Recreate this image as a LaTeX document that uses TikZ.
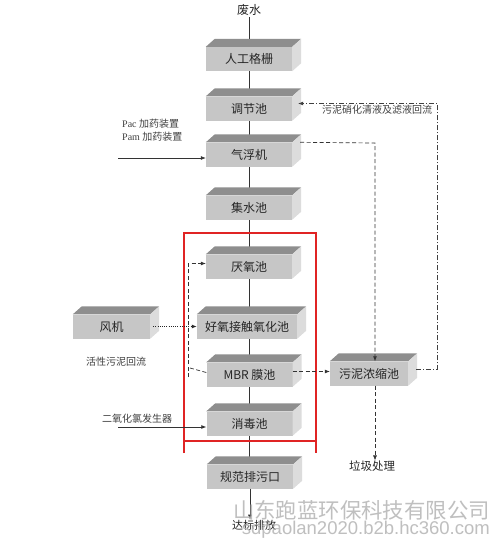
\documentclass[tikz,border=0pt]{standalone}
\usepackage{fontspec}
\setmainfont{Liberation Serif}
\newfontfamily\cjk{Noto Sans CJK SC}
\newfontfamily\wmfont{Liberation Sans}
\usetikzlibrary{arrows.meta}
\pgfdeclarelayer{background}
\pgfsetlayers{background,main}
\definecolor{boxfrontc}{HTML}{C6C6C6}
\definecolor{boxtopc}{HTML}{8E8E8E}
\definecolor{boxsidec}{HTML}{DCDCDC}
\definecolor{framered}{HTML}{E02424}
\definecolor{wmc}{HTML}{B4B4B4}
\tikzset{
  boxfront/.style={fill=boxfrontc, draw=none, minimum height=24pt, inner sep=0pt,
    font=\cjk\fontsize{12}{14}\selectfont, text=black!85},
  boxtop/.style={fill=boxtopc},
  boxside/.style={fill=boxsidec},
  mainline/.style={draw=black!80, line width=0.7pt},
  tip/.style={-{Latex[length=5pt,width=4pt]}},
  dashline/.style={draw=black!80, line width=0.7pt, dash pattern=on 4pt off 2.5pt},
  dashdotline/.style={draw=black!75, line width=0.7pt, dash pattern=on 5pt off 2pt on 1pt off 2pt},
  dotline/.style={draw=black!85, line width=0.9pt, dash pattern=on 1pt off 1.2pt},
  redframe/.style={draw=framered, line width=2pt},
  sidelabel/.style={font=\fontsize{10}{12}\selectfont, text=black!75, inner sep=0pt},
  toplabel/.style={font=\cjk\fontsize{12}{14}\selectfont, text=black!85, inner sep=1pt},
  watermark/.style={text=wmc, opacity=0.85, inner sep=0pt, anchor=east}
}
\newcommand\cub[5]{%
  \node[boxfront, minimum width=#4] (#1) at (#2,#3) {#5};
  \fill[boxtop] (#1.north west) -- ++(9,-8) -- ([shift={(9,-8)}]#1.north east) -- (#1.north east) -- cycle;
  \fill[boxside] (#1.north east) -- ++(9,-8) -- ([shift={(9,-8)}]#1.south east) -- (#1.south east) -- cycle;
}
\begin{document}
\begin{tikzpicture}[x=1pt,y=-1pt]
\begin{pgfonlayer}{background}
\fill[white] (0,0) rectangle (492,541);
\end{pgfonlayer}
\useasboundingbox (0,0) rectangle (492,541);

% boxes
\cub{gs}{249}{59}{86pt}{人工格栅}
\cub{tj}{249}{108.5}{86pt}{调节池}
\cub{qf}{249}{154.5}{86pt}{气浮机}
\cub{js}{249}{207.5}{86pt}{集水池}
\cub{yy}{249}{266.5}{86pt}{厌氧池}
\cub{hy}{247}{326.5}{100pt}{好氧接触氧化池}
\cub{mbr}{249.5}{374.5}{86pt}{MBR 膜池}
\cub{xd}{249.5}{423.5}{86pt}{消毒池}
\cub{gf}{250}{476.5}{86pt}{规范排污口}
\cub{fj}{111.5}{326.5}{77pt}{风机}
\cub{nz}{369}{373.5}{78pt}{污泥浓缩池}

% text labels
\node[toplabel] (fs) at (249,10) {废水};
\node[sidelabel, anchor=west] (pac) at (122,124) {Pac \cjk 加药装置};
\node[sidelabel, anchor=west] (pam) at (122,137) {Pam \cjk 加药装置};
\node[sidelabel, font=\cjk\fontsize{10}{12}\selectfont] (hl) at (377,110) {污泥硝化清液及滤液回流};
\node[sidelabel, font=\cjk\fontsize{10}{12}\selectfont] (hx) at (116,362) {活性污泥回流};
\node[sidelabel, font=\cjk\fontsize{10}{12}\selectfont] (eyh) at (137,419) {二氧化氯发生器};
\node[sidelabel, font=\cjk\fontsize{11.5}{13}\selectfont, text=black!85] (lj) at (372,466) {垃圾处理};
\node[sidelabel, font=\cjk\fontsize{11}{13}\selectfont, text=black!85] (db) at (254,525) {达标排放};

% main line (behind boxes)
\begin{pgfonlayer}{background}
\draw[mainline] (fs.south) -- (fs.south |- gs.north);
\draw[mainline] (gs.south) -- (gs.south |- tj.north);
\draw[mainline] (tj.south) -- (tj.south |- qf.north);
\draw[mainline] (qf.south) -- (qf.south |- js.north);
\draw[mainline] (js.south) -- (js.south |- yy.north);
\draw[mainline] (yy.south) -- (yy.south |- hy.north);
\draw[mainline] (yy.south |- hy.south) -- (yy.south |- mbr.north);
\draw[mainline] (mbr.south) -- (mbr.south |- xd.north);
\draw[mainline] (xd.south) -- (xd.south |- gf.north);
\end{pgfonlayer}

% red frame
\draw[redframe] (184,453) -- (184,233) -- (316,233) -- (316,453)
                (184,441) -- (316,441);

% feed arrows
\coordinate (p1) at (118,158);
\draw[mainline, tip] (p1) -- (p1 -| qf.west);
\coordinate (p2) at (118,427);
\draw[mainline, tip] (p2) -- (p2 -| xd.west);
\draw[mainline, tip] (gf.south) -- (gf.south |- db.north);

% blower
\draw[dotline, tip] ([xshift=3pt]fj.east) -- (hy.west);

% sludge return (left)
\coordinate (l1) at (188,377);
\coordinate (l2) at ([yshift=3pt]yy.west);
\draw[dashline, tip] (l1) -- (l1 |- l2) -- (l2);
\coordinate (l3) at (190,368);
\draw[dashline] ([yshift=2pt]mbr.west) -- (l3);

% MBR to thickener
\coordinate (m1) at ([yshift=3pt]mbr.east);
\draw[dashline, tip] (m1) -- (m1 -| nz.west);

% flotation sludge to thickener
\coordinate (c1) at (375,143);
\draw[dashline, tip] ([xshift=8pt]qf.north east) -- (c1) -- (c1 |- nz.north);
\draw[dashline, tip] (c1 |- nz.south) -- (c1 |- lj.north);

% supernatant return
\coordinate (r1) at ([shift={(8,-4)}]nz.east);
\coordinate (r2) at ([shift={(6,-5)}]tj.east);
\coordinate (c2) at (437,0);
\draw[dashdotline, tip] (r1) -- (r1 -| c2) -- (c2 |- r2) -- (r2);

% watermark
\node[watermark, font=\cjk\fontsize{21.4}{24}\selectfont] (wm1) at (490,510) {山东跑蓝环保科技有限公司};
\node[watermark, font=\wmfont\fontsize{18.5}{21}\selectfont] (wm2) at (490,530) {sdpaolan2020.b2b.hc360.com};
\end{tikzpicture}
\end{document}
